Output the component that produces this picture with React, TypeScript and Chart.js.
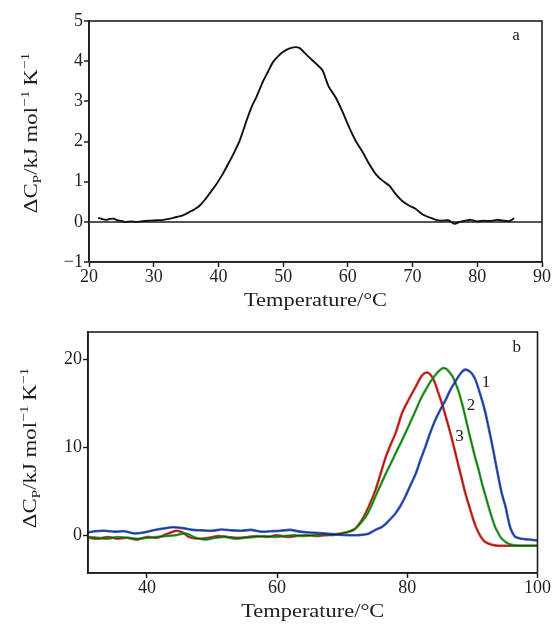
import React, { useEffect, useRef } from 'react';
import { Chart, registerables } from 'chart.js';

Chart.register(...registerables);

// ---------- Panel a data ----------
const tempA = [21.4, 22.0, 22.6, 23.2, 23.8, 24.4, 25.0, 25.6, 26.5, 27.5, 28.5, 29.5, 30.5, 31.5, 32.5, 33.5, 34.3, 35.0, 35.8, 36.5, 37.2, 37.9, 38.7, 39.7, 40.7, 41.7, 42.5, 43.3, 44.3, 45.1, 45.9, 46.9, 47.7, 48.4, 49.2, 49.9, 50.9, 51.9, 52.5, 53.0, 54.0, 55.0, 56.1, 56.6, 57.1, 58.1, 59.2, 60.2, 61.2, 62.3, 63.3, 64.3, 65.4, 66.4, 67.4, 68.4, 69.5, 70.5, 71.5, 72.6, 73.6, 74.5, 75.5, 76.5, 77.3, 78.2, 79.0, 80.0, 81.0, 82.0, 83.0, 84.0, 85.0, 85.7];
const cpA = [0.10, 0.07, 0.05, 0.07, 0.08, 0.04, 0.02, 0.00, 0.01, 0.00, 0.02, 0.03, 0.04, 0.05, 0.08, 0.12, 0.15, 0.20, 0.27, 0.33, 0.42, 0.55, 0.72, 0.94, 1.20, 1.50, 1.75, 2.03, 2.50, 2.85, 3.12, 3.50, 3.75, 3.97, 4.12, 4.22, 4.31, 4.35, 4.33, 4.26, 4.10, 3.95, 3.77, 3.55, 3.35, 3.10, 2.73, 2.35, 2.02, 1.73, 1.44, 1.19, 1.02, 0.90, 0.69, 0.52, 0.40, 0.32, 0.19, 0.11, 0.05, 0.03, 0.04, -0.05, 0.00, 0.03, 0.05, 0.01, 0.03, 0.02, 0.05, 0.03, 0.02, 0.09];
const xTicksA = [20, 30, 40, 50, 60, 70, 80, 90];
const yTicksA = [-1, 0, 1, 2, 3, 4, 5];

// ---------- Panel b data ----------
const temp1 = [31.0, 32.0, 33.5, 35.0, 36.5, 38.0, 39.5, 41.0, 42.5, 44.0, 45.5, 47.0, 48.5, 50.0, 51.5, 53.0, 54.5, 56.0, 57.5, 59.0, 60.5, 62.0, 63.5, 65.0, 66.5, 68.0, 69.5, 71.0, 72.5, 74.0, 75.1, 76.0, 76.7, 77.5, 78.2, 79.0, 79.7, 80.5, 81.3, 82.0, 82.8, 83.5, 84.3, 85.1, 85.9, 86.6, 87.4, 88.1, 88.8, 89.4, 90.0, 90.5, 91.0, 91.5, 92.0, 92.5, 93.0, 93.5, 94.0, 94.5, 95.1, 95.5, 95.8, 96.2, 96.6, 97.5, 98.7, 100.0];
const cp1 = [0.3, 0.45, 0.5, 0.4, 0.45, 0.2, 0.3, 0.55, 0.75, 0.9, 0.8, 0.6, 0.55, 0.5, 0.65, 0.55, 0.5, 0.6, 0.4, 0.45, 0.5, 0.6, 0.4, 0.3, 0.25, 0.15, 0.05, 0.0, 0.0, 0.15, 0.6, 0.9, 1.3, 1.9, 2.5, 3.4, 4.4, 5.7, 7.0, 8.5, 10.1, 11.6, 13.1, 14.3, 15.4, 16.5, 17.5, 18.3, 18.8, 18.7, 18.3, 17.6, 16.5, 15.3, 13.9, 12.2, 10.4, 8.5, 6.6, 4.8, 3.2, 1.8, 0.9, 0.2, -0.2, -0.4, -0.5, -0.6];

const temp2 = [31.0, 32.5, 34.0, 35.5, 37.0, 38.5, 40.0, 41.5, 43.0, 44.5, 46.0, 47.5, 49.0, 50.5, 52.0, 53.5, 55.0, 56.5, 58.0, 59.5, 61.0, 62.5, 64.0, 65.5, 67.0, 68.5, 70.0, 71.0, 72.1, 73.6, 74.4, 75.1, 75.9, 76.7, 77.5, 78.2, 79.0, 79.7, 80.5, 81.3, 82.0, 82.8, 83.5, 84.3, 84.9, 85.5, 86.0, 86.4, 86.9, 87.4, 87.9, 88.4, 88.9, 89.4, 89.9, 90.4, 91.0, 91.5, 92.0, 92.5, 93.0, 93.5, 94.0, 94.5, 95.6, 96.5, 97.6, 100.0];
const cp2 = [-0.2, -0.3, -0.4, -0.2, -0.3, -0.4, -0.3, -0.2, -0.1, 0.0, 0.2, -0.3, -0.5, -0.3, -0.2, -0.4, -0.3, -0.2, -0.1, -0.2, -0.1, 0.0, -0.1, 0.0, 0.1, 0.0, 0.2, 0.4, 0.8, 2.1, 3.2, 4.4, 5.7, 7.0, 8.2, 9.3, 10.5, 11.6, 12.9, 14.2, 15.4, 16.5, 17.4, 18.2, 18.7, 19.0, 18.9, 18.6, 18.1, 17.3, 16.3, 15.0, 13.5, 11.9, 10.4, 8.9, 7.3, 5.8, 4.5, 3.2, 2.0, 0.9, 0.2, -0.4, -1.0, -1.15, -1.2, -1.2];

const temp3 = [31.0, 32.5, 34.0, 35.5, 37.0, 38.5, 40.0, 41.5, 43.0, 44.5, 45.5, 46.5, 48.0, 49.5, 51.0, 52.5, 54.0, 55.5, 57.0, 58.5, 60.0, 61.5, 63.0, 64.5, 66.0, 67.5, 69.0, 70.5, 71.5, 72.1, 73.0, 73.6, 74.4, 75.1, 75.9, 76.7, 77.5, 78.2, 79.2, 80.2, 81.3, 82.3, 83.1, 83.8, 84.3, 84.8, 85.4, 85.9, 86.4, 86.9, 87.4, 87.9, 88.4, 88.9, 89.5, 90.0, 90.5, 91.0, 91.5, 92.0, 93.0, 94.0, 100.0];
const cp3 = [-0.3, -0.4, -0.2, -0.4, -0.3, -0.5, -0.2, -0.3, 0.1, 0.5, 0.3, -0.2, -0.4, -0.3, -0.1, -0.2, -0.3, -0.2, -0.1, -0.2, 0.0, -0.2, -0.1, 0.0, -0.1, 0.0, 0.1, 0.3, 0.5, 0.8, 1.7, 2.5, 3.8, 5.1, 7.0, 8.9, 10.4, 11.6, 13.9, 15.4, 16.9, 18.2, 18.5, 18.0, 17.2, 16.1, 14.8, 13.5, 12.2, 10.8, 9.3, 7.8, 6.3, 4.8, 3.3, 2.1, 1.0, 0.2, -0.4, -0.8, -1.1, -1.2, -1.2];

const xTicksB = [40, 60, 80, 100];
const yTicksB = [0, 10, 20];

const curveNames = ['1', '2', '3'];
const curveLabelX = [92.1, 89.8, 88.0];
const curveLabelY = [17.3, 14.7, 11.2];

const FONT = '"Liberation Serif", "Times New Roman", serif';
const INK = '#1e1e1e';

type Seg = { t: string; k: 'n' | 'sub' | 'sup' };
const yTitleSegs: Seg[] = [
  { t: 'ΔC', k: 'n' },
  { t: 'P', k: 'sub' },
  { t: '/kJ mol', k: 'n' },
  { t: '−1', k: 'sup' },
  { t: '\u2009K', k: 'n' },
  { t: '−1', k: 'sup' },
];

function drawRich(ctx: CanvasRenderingContext2D, cx: number, cy: number, rotate: boolean, segs: Seg[], size: number, stretch: number) {
  ctx.save();
  ctx.translate(cx, cy);
  if (rotate) ctx.rotate(-Math.PI / 2);
  ctx.scale(stretch, 1);
  const small = Math.round(size * 0.68);
  const fontOf = (s: Seg) => `${s.k === 'n' ? size : small}px ${FONT}`;
  let total = 0;
  const widths = segs.map((s) => {
    ctx.font = fontOf(s);
    const w = ctx.measureText(s.t).width;
    total += w;
    return w;
  });
  let x = -total / 2;
  ctx.fillStyle = INK;
  ctx.textAlign = 'left';
  ctx.textBaseline = rotate ? 'alphabetic' : 'middle';
  segs.forEach((s, i) => {
    ctx.font = fontOf(s);
    const dy = s.k === 'sub' ? size * 0.22 : s.k === 'sup' ? -size * 0.42 : 0;
    ctx.fillText(s.t, x, dy);
    x += widths[i];
  });
  ctx.restore();
}

function makeDecor(cfg: {
  yTitleX: number;
  yTitleY: number;
  xTitleY: number;
  panel: string;
  panelAt: [number, number];
  curveLabels?: boolean;
}) {
  return {
    id: 'decor',
    afterDraw(chart: any) {
      const ctx: CanvasRenderingContext2D = chart.ctx;
      const a = chart.chartArea;
      const xs = chart.scales.x;
      const ys = chart.scales.y;
      ctx.save();
      ctx.strokeStyle = INK;
      ctx.lineWidth = 1.6;
      ctx.strokeRect(a.left, a.top, a.right - a.left, a.bottom - a.top);
      drawRich(ctx, cfg.yTitleX, cfg.yTitleY, true, yTitleSegs, 19, 1.2);
      drawRich(ctx, (a.left + a.right) / 2, cfg.xTitleY, false, [{ t: 'Temperature/°C', k: 'n' }], 19, 1.18);
      ctx.fillStyle = INK;
      ctx.font = `17px ${FONT}`;
      ctx.textAlign = 'center';
      ctx.textBaseline = 'middle';
      ctx.fillText(cfg.panel, xs.getPixelForValue(cfg.panelAt[0]), ys.getPixelForValue(cfg.panelAt[1]));
      if (cfg.curveLabels) {
        curveNames.forEach((n, i) => {
          ctx.fillText(n, xs.getPixelForValue(curveLabelX[i]), ys.getPixelForValue(curveLabelY[i]));
        });
      }
      ctx.restore();
    },
  };
}

const minusFmt = (v: any) => (Number(v) < 0 ? '−' + Math.abs(Number(v)) : String(v));

function axisCommon(ticks: number[], isX: boolean, size: number) {
  return {
    type: 'linear' as const,
    afterBuildTicks: (s: any) => {
      s.ticks = ticks.map((v) => ({ value: v }));
    },
    afterFit: (s: any) => {
      if (isX) s.height = size;
      else s.width = size;
    },
    ticks: {
      color: INK,
      font: { family: FONT, size: 18, lineHeight: 1 },
      padding: 1,
      callback: minusFmt,
      maxRotation: 0,
      autoSkip: false,
    },
    border: { display: true, color: INK, width: 1.6 },
  };
}

function PanelA() {
  const ref = useRef<HTMLCanvasElement>(null);
  useEffect(() => {
    const chart = new Chart(ref.current!, {
      type: 'line',
      data: {
        datasets: [
          {
            data: tempA.map((x, i) => ({ x, y: cpA[i] })),
            borderColor: '#111',
            borderWidth: 1.9,
            pointRadius: 0,
            tension: 0.25,
            fill: false,
          },
        ],
      },
      options: {
        responsive: false,
        animation: false,
        events: [],
        layout: { padding: { left: 0, top: 21, right: 10, bottom: 0 } },
        plugins: { legend: { display: false }, tooltip: { enabled: false } },
        scales: {
          x: {
            ...axisCommon(xTicksA, true, 50),
            position: 'bottom',
            min: 20,
            max: 90,
            grid: { drawOnChartArea: false, tickLength: 5, tickColor: INK, tickWidth: 1.5 },
          },
          y: {
            ...axisCommon(yTicksA, false, 89),
            min: -1,
            max: 5,
            grid: {
              drawOnChartArea: true,
              color: (c: any) => (c.tick && c.tick.value === 0 ? '#555' : 'rgba(0,0,0,0)'),
              lineWidth: (c: any) => (c.tick && c.tick.value === 0 ? 2 : 0),
              tickLength: 5,
              tickColor: INK,
              tickWidth: 1.5,
            },
          },
        },
      },
      plugins: [
        makeDecor({ yTitleX: 37, yTitleY: 133, xTitleY: 301, panel: 'a', panelAt: [86.0, 4.65] }),
      ],
    } as any);
    return () => chart.destroy();
  }, []);
  return <canvas ref={ref} width={552} height={312} style={{ position: 'absolute', left: 0, top: 0, width: 552, height: 312 }} />;
}

function PanelB() {
  const ref = useRef<HTMLCanvasElement>(null);
  useEffect(() => {
    const series = [
      { t: temp1, c: cp1, color: '#3d63d6' },
      { t: temp2, c: cp2, color: '#3cb83a' },
      { t: temp3, c: cp3, color: '#f03a32' },
    ];
    const datasets: any[] = [];
    series.forEach((s) => {
      const pts = s.t.map((x, i) => ({ x, y: s.c[i] }));
      datasets.push({ data: pts, borderColor: 'rgba(10,10,10,0.6)', borderWidth: 0.9, pointRadius: 0, tension: 0.3, order: 1 });
      datasets.push({ data: pts, borderColor: s.color, borderWidth: 2.6, pointRadius: 0, tension: 0.3, order: 2 });
    });
    const chart = new Chart(ref.current!, {
      type: 'line',
      data: { datasets },
      options: {
        responsive: false,
        animation: false,
        events: [],
        layout: { padding: { left: 0, top: 20, right: 14, bottom: 0 } },
        plugins: { legend: { display: false }, tooltip: { enabled: false } },
        scales: {
          x: {
            ...axisCommon(xTicksB, true, 51),
            position: 'bottom',
            min: 30.95,
            max: 100,
            grid: { drawOnChartArea: false, tickLength: 5, tickColor: INK, tickWidth: 1.5 },
          },
          y: {
            ...axisCommon(yTicksB, false, 88),
            min: -4.3,
            max: 23.1,
            grid: { drawOnChartArea: false, tickLength: 5, tickColor: INK, tickWidth: 1.5 },
          },
        },
      },
      plugins: [
        makeDecor({ yTitleX: 36, yTitleY: 136, xTitleY: 300, panel: 'b', panelAt: [96.8, 21.3], curveLabels: true }),
      ],
    } as any);
    return () => chart.destroy();
  }, []);
  return <canvas ref={ref} width={552} height={312} style={{ position: 'absolute', left: 0, top: 312, width: 552, height: 312 }} />;
}

export default function App() {
  return (
    <div style={{ position: 'absolute', left: 0, top: 0, width: 552, height: 624, background: '#fff', overflow: 'hidden' }}>
      <PanelA />
      <PanelB />
    </div>
  );
}
